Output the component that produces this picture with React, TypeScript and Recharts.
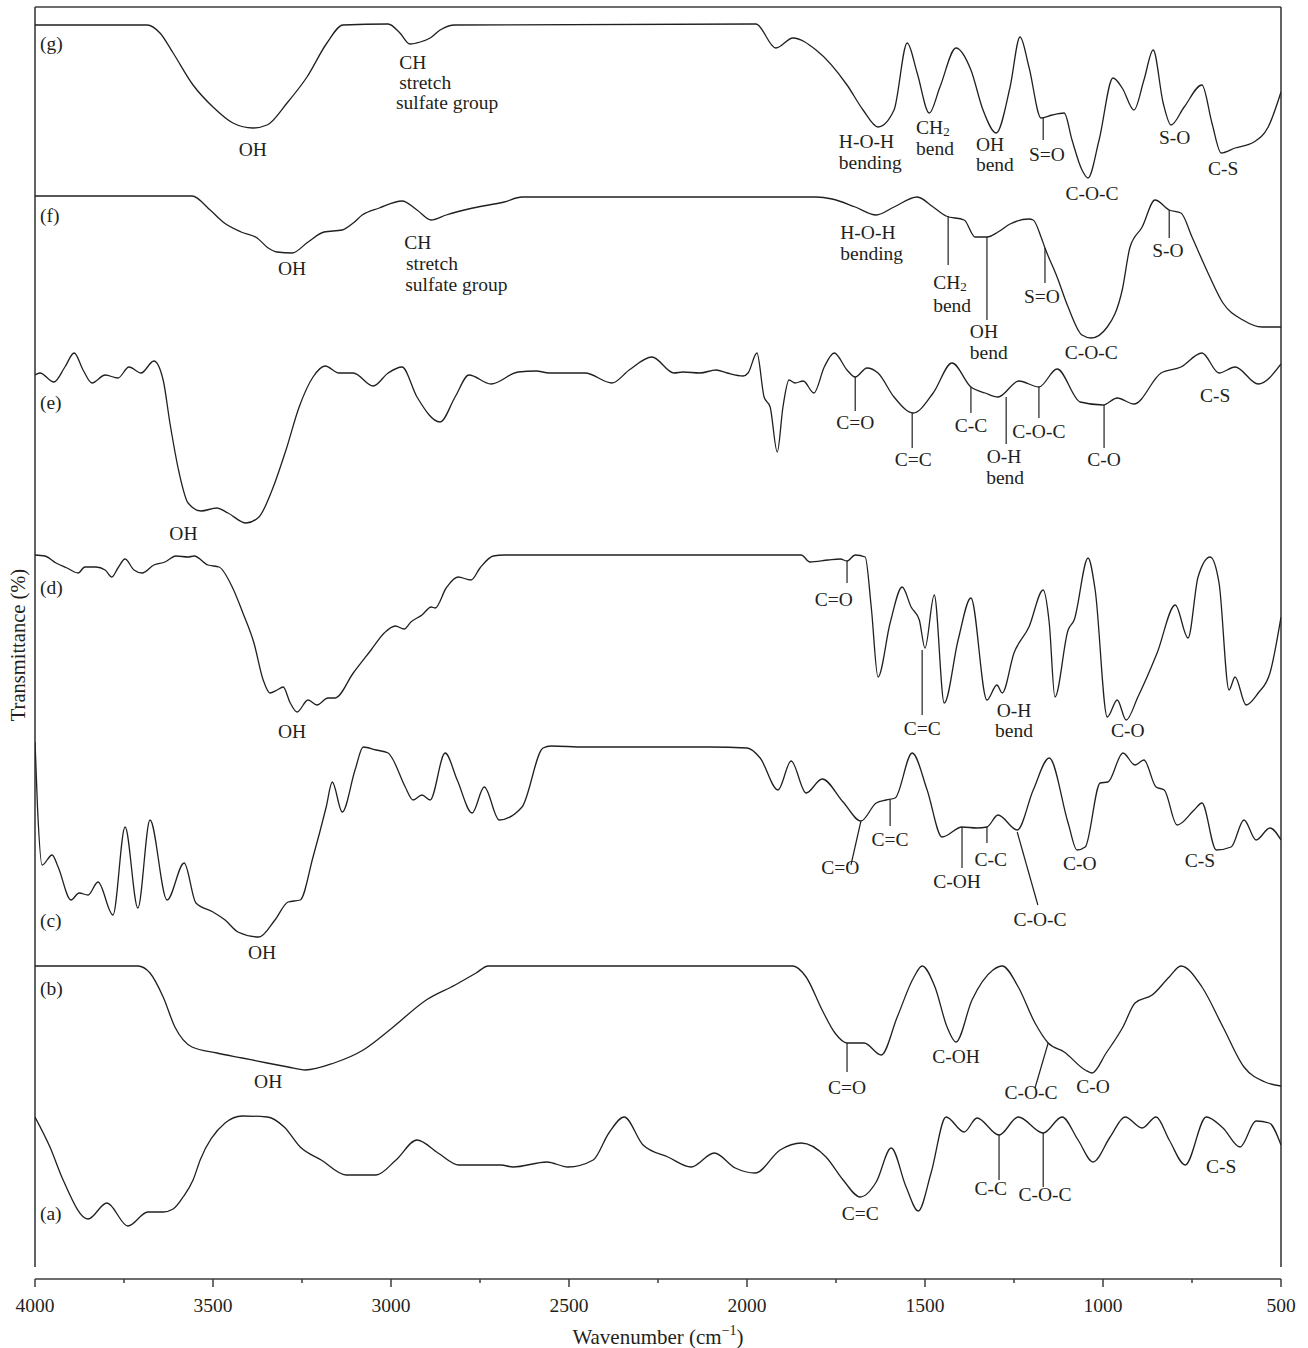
import React from 'react';
import { LineChart, Line, XAxis, YAxis, ReferenceLine, ReferenceDot } from 'recharts';

type P = [number, number];

// Stacked FTIR spectra: [wavenumber (cm-1), transmittance in stacked offset units]
const spectrumG: P[] = [
  [4000, 1254], [3685, 1254], [3649, 1246], [3612, 1226], [3556, 1194], [3500, 1172], [3444, 1156],
  [3388, 1151], [3348, 1154], [3292, 1176], [3236, 1202], [3180, 1236], [3135, 1254], [3008, 1255],
  [2975, 1246], [2947, 1235], [2918, 1237], [2890, 1241], [2862, 1249], [2820, 1254], [1975, 1255],
  [1919, 1231], [1871, 1241], [1806, 1229], [1719, 1194], [1674, 1169], [1632, 1152], [1587, 1169],
  [1550, 1236], [1522, 1206], [1488, 1166], [1458, 1192], [1413, 1231], [1371, 1209], [1337, 1169],
  [1300, 1146], [1261, 1192], [1233, 1242], [1208, 1212], [1174, 1161], [1143, 1164], [1109, 1166],
  [1087, 1139], [1059, 1109], [1042, 1101], [1011, 1139], [972, 1201], [946, 1191], [913, 1169],
  [885, 1199], [859, 1229], [831, 1176], [809, 1154], [772, 1172], [722, 1194], [694, 1156],
  [668, 1126], [629, 1131], [576, 1137], [536, 1152], [500, 1187],
];

const spectrumF: P[] = [
  [4000, 1083], [3559, 1083], [3508, 1069], [3472, 1057], [3421, 1047], [3376, 1041], [3345, 1031],
  [3320, 1027], [3278, 1026], [3233, 1037], [3188, 1047], [3137, 1049], [3106, 1056], [3081, 1064],
  [3033, 1071], [2969, 1078], [2927, 1069], [2887, 1059], [2845, 1064], [2770, 1071], [2682, 1077],
  [2632, 1082], [1904, 1082], [1806, 1082], [1761, 1080], [1696, 1072], [1637, 1064], [1587, 1072],
  [1522, 1082], [1477, 1072], [1441, 1063], [1390, 1059], [1359, 1042], [1326, 1042], [1295, 1047],
  [1261, 1055], [1208, 1060], [1196, 1059], [1174, 1042], [1163, 1031], [1129, 1002], [1098, 972],
  [1059, 944], [1033, 941], [988, 952], [946, 989], [924, 1032], [890, 1052], [854, 1079],
  [814, 1069], [781, 1066], [750, 1042], [705, 1006], [663, 976], [607, 959], [553, 952], [500, 952],
];

const spectrumE: P[] = [
  [4000, 904], [3986, 906], [3947, 897], [3916, 912], [3890, 926], [3865, 909], [3840, 896],
  [3803, 904], [3767, 901], [3736, 912], [3702, 906], [3666, 918], [3640, 899], [3621, 856],
  [3595, 806], [3570, 776], [3534, 768], [3489, 771], [3458, 766], [3407, 756], [3371, 762],
  [3334, 789], [3295, 829], [3258, 872], [3219, 902], [3185, 913], [3146, 906], [3106, 906],
  [3050, 893], [3008, 906], [2969, 912], [2927, 882], [2862, 857], [2820, 882], [2781, 904],
  [2719, 895], [2643, 907], [2592, 908], [2556, 906], [2455, 906], [2379, 896], [2331, 909],
  [2267, 922], [2205, 906], [2180, 907], [2132, 906], [2087, 909], [2056, 906], [2011, 903],
  [1997, 906], [1972, 926], [1952, 882], [1935, 872], [1915, 827], [1899, 872], [1882, 899],
  [1865, 896], [1842, 898], [1812, 886], [1783, 912], [1755, 926], [1719, 909], [1696, 902],
  [1663, 911], [1632, 906], [1587, 882], [1533, 866], [1477, 886], [1424, 916], [1371, 892],
  [1331, 886], [1295, 882], [1236, 898], [1180, 892], [1129, 910], [1064, 877], [1000, 874],
  [960, 881], [913, 875], [837, 906], [781, 912], [722, 926], [674, 906], [629, 912],
  [564, 895], [500, 915],
];

const spectrumD: P[] = [
  [4000, 724], [3972, 723], [3941, 716], [3910, 711], [3879, 706], [3860, 712], [3829, 712],
  [3803, 709], [3784, 702], [3767, 711], [3747, 720], [3722, 709], [3699, 706], [3666, 714],
  [3635, 717], [3604, 723], [3570, 722], [3553, 723], [3514, 714], [3483, 712], [3446, 692],
  [3416, 666], [3385, 636], [3359, 599], [3340, 586], [3320, 589], [3303, 592], [3283, 576],
  [3264, 567], [3233, 579], [3208, 574], [3177, 581], [3157, 581], [3106, 606], [3056, 629],
  [3019, 646], [2988, 653], [2963, 650], [2944, 657], [2913, 664], [2887, 672], [2876, 671],
  [2845, 691], [2812, 702], [2775, 699], [2750, 711], [2713, 723], [2682, 724], [1848, 724],
  [1823, 717], [1772, 719], [1738, 720], [1719, 718], [1696, 724], [1668, 722], [1651, 672],
  [1632, 602], [1598, 656], [1564, 692], [1539, 672], [1516, 659], [1500, 631], [1474, 684],
  [1446, 576], [1407, 639], [1371, 681], [1326, 579], [1298, 594], [1283, 586], [1250, 626],
  [1208, 652], [1168, 689], [1151, 656], [1135, 582], [1098, 649], [1081, 659], [1042, 721],
  [1022, 689], [988, 562], [960, 579], [935, 559], [902, 582], [848, 626], [797, 674],
  [761, 641], [733, 702], [699, 722], [674, 696], [646, 589], [629, 602], [598, 574],
  [564, 586], [531, 606], [500, 662],
];

const spectrumC: P[] = [
  [4000, 537], [3993, 472], [3980, 414], [3952, 424], [3935, 412], [3899, 379], [3876, 386],
  [3851, 384], [3823, 397], [3781, 364], [3747, 452], [3711, 371], [3677, 459], [3629, 379],
  [3581, 416], [3548, 376], [3500, 367], [3466, 359], [3430, 347], [3371, 342], [3326, 359],
  [3289, 377], [3255, 379], [3219, 422], [3182, 472], [3165, 497], [3137, 467], [3101, 509],
  [3078, 532], [3042, 529], [3008, 526], [2997, 521], [2960, 492], [2938, 479], [2913, 484],
  [2890, 479], [2848, 526], [2814, 499], [2772, 466], [2738, 492], [2696, 459], [2632, 472],
  [2573, 531], [2550, 533], [2458, 532], [2222, 532], [2104, 532], [2000, 531], [1963, 521],
  [1913, 489], [1876, 518], [1834, 486], [1789, 500], [1730, 477], [1680, 458], [1637, 476],
  [1609, 479], [1584, 481], [1536, 526], [1494, 489], [1452, 442], [1396, 452], [1354, 451],
  [1326, 452], [1295, 464], [1241, 449], [1196, 489], [1151, 521], [1098, 456], [1073, 429],
  [1050, 432], [1008, 496], [986, 497], [944, 526], [910, 514], [885, 519], [851, 492],
  [828, 489], [792, 454], [744, 469], [722, 476], [682, 429], [640, 432], [604, 459],
  [570, 439], [531, 451], [500, 439],
];

const spectrumB: P[] = [
  [4000, 313], [3711, 313], [3677, 306], [3640, 282], [3607, 252], [3559, 232], [3489, 226],
  [3418, 221], [3348, 216], [3289, 212], [3241, 209], [3160, 216], [3078, 229], [2997, 251],
  [2901, 279], [2820, 294], [2761, 306], [2727, 313], [1871, 313], [1834, 302], [1789, 269],
  [1753, 246], [1719, 236], [1671, 236], [1623, 224], [1578, 262], [1531, 302], [1508, 313],
  [1472, 292], [1438, 252], [1413, 237], [1368, 279], [1309, 309], [1283, 313], [1238, 292],
  [1191, 256], [1154, 236], [1109, 227], [1050, 209], [1031, 206], [991, 226], [944, 252],
  [910, 276], [862, 284], [814, 302], [781, 313], [722, 292], [663, 252], [604, 212],
  [545, 197], [500, 193],
];

const spectrumA: P[] = [
  [4000, 162], [3958, 132], [3921, 99], [3851, 60], [3798, 76], [3739, 53], [3683, 67],
  [3640, 67], [3612, 70], [3584, 82], [3556, 99], [3536, 119], [3466, 156], [3418, 163],
  [3348, 162], [3300, 152], [3255, 132], [3196, 119], [3126, 104], [3042, 104], [2986, 119],
  [2927, 139], [2868, 126], [2809, 114], [2691, 114], [2657, 112], [2562, 117], [2503, 112],
  [2432, 119], [2388, 146], [2345, 162], [2292, 134], [2222, 122], [2157, 112], [2092, 126],
  [2033, 111], [1977, 106], [1907, 129], [1848, 136], [1778, 122], [1730, 99], [1682, 82],
  [1637, 97], [1595, 131], [1553, 92], [1519, 68], [1483, 106], [1441, 162], [1390, 147],
  [1354, 161], [1292, 144], [1238, 162], [1168, 146], [1115, 162], [1070, 139], [1028, 117],
  [980, 142], [938, 162], [890, 151], [851, 162], [814, 139], [769, 114], [710, 162],
  [663, 151], [615, 132], [570, 158], [533, 156], [500, 134],
];

const xTicks = [4000, 3750, 3500, 3250, 3000, 2750, 2500, 2250, 2000, 1750, 1500, 1250, 1000, 750, 500];

type Anno = { text: string; wn: number; t: number; anchor: 'start' | 'middle' };

const labelsG: Anno[] = [
  { text: '(g)', wn: 3986, t: 1236, anchor: 'start' },
  { text: 'OH', wn: 3388, t: 1130, anchor: 'middle' },
  { text: 'CH', wn: 2977, t: 1217, anchor: 'start' },
  { text: 'stretch', wn: 2977, t: 1197, anchor: 'start' },
  { text: 'sulfate group', wn: 2986, t: 1177, anchor: 'start' },
  { text: 'H-O-H', wn: 1742, t: 1138, anchor: 'start' },
  { text: 'bending', wn: 1742, t: 1117, anchor: 'start' },
  { text: 'CH_2', wn: 1525, t: 1152, anchor: 'start' },
  { text: 'bend', wn: 1525, t: 1131, anchor: 'start' },
  { text: 'OH', wn: 1357, t: 1135, anchor: 'start' },
  { text: 'bend', wn: 1357, t: 1115, anchor: 'start' },
  { text: 'S=O', wn: 1208, t: 1125, anchor: 'start' },
  { text: 'C-O-C', wn: 1031, t: 1086, anchor: 'middle' },
  { text: 'S-O', wn: 843, t: 1142, anchor: 'start' },
  { text: 'C-S', wn: 705, t: 1111, anchor: 'start' },
];

const labelsF: Anno[] = [
  { text: '(f)', wn: 3986, t: 1064, anchor: 'start' },
  { text: 'OH', wn: 3278, t: 1011, anchor: 'middle' },
  { text: 'CH', wn: 2963, t: 1037, anchor: 'start' },
  { text: 'stretch', wn: 2958, t: 1016, anchor: 'start' },
  { text: 'sulfate group', wn: 2960, t: 995, anchor: 'start' },
  { text: 'H-O-H', wn: 1738, t: 1047, anchor: 'start' },
  { text: 'bending', wn: 1738, t: 1026, anchor: 'start' },
  { text: 'CH_2', wn: 1477, t: 997, anchor: 'start' },
  { text: 'bend', wn: 1477, t: 974, anchor: 'start' },
  { text: 'OH', wn: 1374, t: 948, anchor: 'start' },
  { text: 'bend', wn: 1374, t: 927, anchor: 'start' },
  { text: 'S=O', wn: 1222, t: 983, anchor: 'start' },
  { text: 'C-O-C', wn: 1033, t: 927, anchor: 'middle' },
  { text: 'S-O', wn: 862, t: 1029, anchor: 'start' },
];

const labelsE: Anno[] = [
  { text: '(e)', wn: 3986, t: 877, anchor: 'start' },
  { text: 'OH', wn: 3583, t: 746, anchor: 'middle' },
  { text: 'C=O', wn: 1696, t: 857, anchor: 'middle' },
  { text: 'C=C', wn: 1533, t: 820, anchor: 'middle' },
  { text: 'C-C', wn: 1371, t: 854, anchor: 'middle' },
  { text: 'C-O-C', wn: 1180, t: 848, anchor: 'middle' },
  { text: 'O-H', wn: 1278, t: 823, anchor: 'middle' },
  { text: 'bend', wn: 1275, t: 802, anchor: 'middle' },
  { text: 'C-O', wn: 997, t: 820, anchor: 'middle' },
  { text: 'C-S', wn: 685, t: 884, anchor: 'middle' },
];

const labelsD: Anno[] = [
  { text: '(d)', wn: 3986, t: 692, anchor: 'start' },
  { text: 'OH', wn: 3278, t: 548, anchor: 'middle' },
  { text: 'C=O', wn: 1756, t: 680, anchor: 'middle' },
  { text: 'C=C', wn: 1508, t: 551, anchor: 'middle' },
  { text: 'O-H', wn: 1250, t: 569, anchor: 'middle' },
  { text: 'bend', wn: 1250, t: 549, anchor: 'middle' },
  { text: 'C-O', wn: 930, t: 549, anchor: 'middle' },
];

const labelsC: Anno[] = [
  { text: '(c)', wn: 3986, t: 359, anchor: 'start' },
  { text: 'OH', wn: 3362, t: 327, anchor: 'middle' },
  { text: 'C=O', wn: 1738, t: 412, anchor: 'middle' },
  { text: 'C=C', wn: 1598, t: 440, anchor: 'middle' },
  { text: 'C-OH', wn: 1410, t: 398, anchor: 'middle' },
  { text: 'C-C', wn: 1315, t: 420, anchor: 'middle' },
  { text: 'C-O-C', wn: 1177, t: 360, anchor: 'middle' },
  { text: 'C-O', wn: 1065, t: 416, anchor: 'middle' },
  { text: 'C-S', wn: 728, t: 419, anchor: 'middle' },
];

const labelsB: Anno[] = [
  { text: '(b)', wn: 3986, t: 291, anchor: 'start' },
  { text: 'OH', wn: 3345, t: 198, anchor: 'middle' },
  { text: 'C=O', wn: 1719, t: 192, anchor: 'middle' },
  { text: 'C-OH', wn: 1413, t: 223, anchor: 'middle' },
  { text: 'C-O-C', wn: 1202, t: 187, anchor: 'middle' },
  { text: 'C-O', wn: 1028, t: 193, anchor: 'middle' },
];

const labelsA: Anno[] = [
  { text: '(a)', wn: 3986, t: 66, anchor: 'start' },
  { text: 'C=C', wn: 1682, t: 66, anchor: 'middle' },
  { text: 'C-C', wn: 1315, t: 91, anchor: 'middle' },
  { text: 'C-O-C', wn: 1163, t: 85, anchor: 'middle' },
  { text: 'C-S', wn: 668, t: 113, anchor: 'middle' },
];

// leader lines: [wn1, t1, wn2, t2]
const leaders: [number, number, number, number][] = [
  [1168, 1161, 1168, 1139],
  [1435, 1063, 1435, 1014], [1326, 1042, 1326, 959], [1163, 1031, 1163, 996], [814, 1069, 814, 1041],
  [1696, 902, 1696, 868], [1536, 866, 1536, 831], [1371, 892, 1371, 866], [1272, 882, 1272, 835],
  [1180, 892, 1180, 861], [997, 874, 997, 831],
  [1719, 718, 1719, 696], [1508, 629, 1508, 564],
  [1680, 458, 1708, 414], [1598, 479, 1598, 453], [1396, 452, 1396, 411], [1326, 452, 1326, 436],
  [1241, 447, 1183, 374],
  [1719, 236, 1719, 207], [1154, 236, 1191, 191],
  [1292, 144, 1292, 99], [1168, 146, 1168, 92],
];

// frame: [wn1, t1, wn2, t2]
const frame: [number, number, number, number][] = [
  [4000, 12, 4000, 1272],
  [500, 12, 500, 1272],
  [4000, 1272, 500, 1272],
];

const FONT = '"Liberation Serif", "Times New Roman", Times, serif';
const INK = '#231f20';
const AXIS = '#3c3c3c';

const toRows = (pts: P[]) => pts.map(([wn, t]) => ({ wn, t }));
const allSpectra = [spectrumA, spectrumB, spectrumC, spectrumD, spectrumE, spectrumF, spectrumG].map(toRows);
const allLabels = [...labelsA, ...labelsB, ...labelsC, ...labelsD, ...labelsE, ...labelsF, ...labelsG];

const annoRenderer = (a: Anno) => (props: any) => {
  const vb = props.viewBox || {};
  const x = (vb.x || 0) + (vb.width || 0) / 2;
  const y = (vb.y || 0) + (vb.height || 0) / 2;
  const parts = a.text.split('_');
  return (
    <text x={x} y={y} textAnchor={a.anchor} dominantBaseline="central" fontFamily={FONT} fontSize={19.5} fill={INK}>
      {parts.length > 1 ? (
        <>
          <tspan>{parts[0]}</tspan>
          <tspan dy={4} fontSize={13}>{parts[1]}</tspan>
        </>
      ) : (
        a.text
      )}
    </text>
  );
};

const XTick = (props: any) => {
  const { x, y, payload } = props;
  const v = payload.value as number;
  const major = v % 500 === 0;
  return (
    <g>
      <line x1={x} x2={x} y1={y} y2={y + (major ? 8 : 4)} stroke={AXIS} strokeWidth={1.5} />
      {major && (
        <text x={x} y={y + 26} textAnchor="middle" dominantBaseline="central" fontFamily={FONT} fontSize={19.5} fill={INK}>
          {v}
        </text>
      )}
    </g>
  );
};

const xLabel = (props: any) => {
  const vb = props.viewBox || {};
  const cx = vb.x + vb.width / 2;
  return (
    <text x={cx} y={vb.y + 58} textAnchor="middle" dominantBaseline="central" fontFamily={FONT} fontSize={21} fill={INK}>
      <tspan>Wavenumber (cm</tspan>
      <tspan dy={-7} fontSize={14}>−1</tspan>
      <tspan dy={7}>)</tspan>
    </text>
  );
};

const yLabel = (props: any) => {
  const vb = props.viewBox || {};
  const cx = vb.x + vb.width / 2;
  const cy = vb.y + vb.height / 2 + 2;
  return (
    <text x={cx} y={cy} transform={`rotate(-90, ${cx}, ${cy})`} textAnchor="middle" dominantBaseline="central" fontFamily={FONT} fontSize={20.5} fill={INK}>
      Transmittance (%)
    </text>
  );
};

export default function App() {
  return (
    <div style={{ position: 'absolute', left: 0, top: 0, background: '#fff' }}>
      <LineChart width={1308} height={1348} margin={{ top: 7, right: 27, bottom: 9, left: 0 }}>
        <XAxis
          dataKey="wn"
          type="number"
          domain={[500, 4000]}
          reversed
          ticks={xTicks}
          interval={0}
          tick={<XTick />}
          tickLine={false}
          tickSize={0}
          tickMargin={0}
          axisLine={{ stroke: AXIS, strokeWidth: 1.6 }}
          height={60}
          allowDataOverflow
          label={{ content: xLabel }}
        />
        <YAxis
          type="number"
          domain={[0, 1272]}
          width={35}
          tick={false}
          tickLine={false}
          axisLine={false}
          allowDataOverflow
          label={{ content: yLabel }}
        />
        {frame.map(([a, b, c, d], i) => (
          <ReferenceLine key={'f' + i} segment={[{ x: a, y: b }, { x: c, y: d }]} stroke={AXIS} strokeWidth={1.6} ifOverflow="visible" />
        ))}
        {allSpectra.map((rows, i) => (
          <Line
            key={'s' + i}
            data={rows}
            dataKey="t"
            type="monotone"
            dot={false}
            activeDot={false}
            stroke={INK}
            strokeWidth={1.3}
            isAnimationActive={false}
          />
        ))}
        {leaders.map(([a, b, c, d], i) => (
          <ReferenceLine key={'l' + i} segment={[{ x: a, y: b }, { x: c, y: d }]} stroke={INK} strokeWidth={1.2} ifOverflow="visible" />
        ))}
        {allLabels.map((a, i) => (
          <ReferenceDot
            key={'a' + i}
            x={a.wn}
            y={a.t}
            r={0}
            fill="none"
            stroke="none"
            ifOverflow="visible"
            label={annoRenderer(a)}
          />
        ))}
      </LineChart>
    </div>
  );
}
